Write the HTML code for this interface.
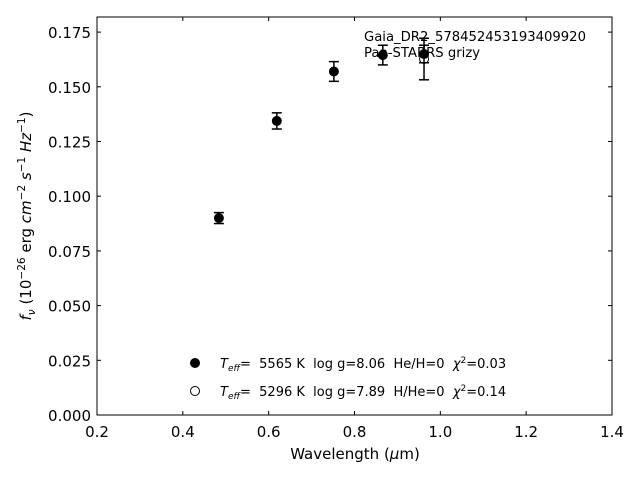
<!DOCTYPE html>
<html><head><meta charset="utf-8"><style>body{margin:0;background:#fff}svg{font-family:"DejaVu Sans","Liberation Sans",sans-serif}text{white-space:pre}</style></head>
<body>
<svg id="c" width="640" height="480"></svg>
<script>
const wl=[0.484,0.619,0.752,0.866,0.962];
const flux=[0.0900,0.1344,0.1570,0.1645,0.1650];
const err=[0.0025,0.0037,0.0045,0.0045,0.0040];
const wlOpen=[0.962];
const fluxOpen=[0.1627];
const errOpen=[0.0095];
const xTicks=[0.2,0.4,0.6,0.8,1.0,1.2,1.4];
const yTicks=[0,0.025,0.05,0.075,0.1,0.125,0.15,0.175];
const L=97,R=612,T=17,B=415;
const X=v=>L+(v-0.2)/1.2*(R-L);
const Y=v=>B-v*2188;
const s=document.getElementById('c');const NS='http://www.w3.org/2000/svg';
function el(t,a,txt){const e=document.createElementNS(NS,t);for(const k in a)e.setAttribute(k,a[k]);if(txt!=null)e.innerHTML=txt;s.appendChild(e);return e;}
let f=el('rect',{x:L,y:T,width:R-L,height:B-T,fill:'none',stroke:'#000','stroke-width':1});


xTicks.forEach(v=>{const x=X(v);
let t=el('line',{x1:x,x2:x,y1:B,y2:B-4,stroke:'#000'});
el('line',{x1:x,x2:x,y1:T,y2:T+4,stroke:'#000'});
let l=el('text',{x:x,y:B+22,'text-anchor':'middle','font-size':15},v.toFixed(1));});
yTicks.forEach(v=>{const y=Y(v);
let t=el('line',{x1:L,x2:L+4,y1:y,y2:y,stroke:'#000'});
el('line',{x1:R,x2:R-4,y1:y,y2:y,stroke:'#000'});
let l=el('text',{x:L-6,y:y+6,'text-anchor':'end','font-size':15},v.toFixed(3));});
function pt(x,y,e,fill,name){const px=X(x),py=Y(y),t=Y(y+e),b=Y(y-e);
const g=el('g',{});
[['line',{x1:px,x2:px,y1:t,y2:b}],['line',{x1:px-5,x2:px+5,y1:t,y2:t}],['line',{x1:px-5,x2:px+5,y1:b,y2:b}]].forEach(([n,a])=>{a.stroke='#000';a['stroke-width']=1.5;const q=document.createElementNS(NS,n);for(const k in a)q.setAttribute(k,a[k]);g.appendChild(q);});
const c=document.createElementNS(NS,'circle');c.setAttribute('cx',px);c.setAttribute('cy',py);c.setAttribute('r',4.5);c.setAttribute('fill',fill);c.setAttribute('stroke','#000');g.appendChild(c);}
wlOpen.forEach((x,i)=>pt(x,fluxOpen[i],errOpen[i],'#fff','model-point-open'));
wl.forEach((x,i)=>pt(x,flux[i],err[i],'#000','observed-point'));
let a=el('text',{x:364,y:41,'font-size':13.2},'Gaia_DR2_578452453193409920');
a=el('text',{x:364,y:57,'font-size':13.2},'Pan-STARRS grizy');
a=el('circle',{cx:195,cy:363,r:4.5,fill:'#000',stroke:'#000'});
a=el('circle',{cx:195,cy:391,r:4.5,fill:'#fff',stroke:'#000'});
a=el('text',{x:220,y:368,'font-size':13},'<tspan font-style="italic">T</tspan><tspan font-size="9" dy="3" font-style="italic">eff</tspan><tspan dy="-3">=  5565 K  log g=8.06  He/H=0  </tspan><tspan font-style="italic">χ</tspan><tspan font-size="9" dy="-5">2</tspan><tspan dy="5">=0.03</tspan>');
a=el('text',{x:220,y:396,'font-size':13},'<tspan font-style="italic">T</tspan><tspan font-size="9" dy="3" font-style="italic">eff</tspan><tspan dy="-3">=  5296 K  log g=7.89  H/He=0  </tspan><tspan font-style="italic">χ</tspan><tspan font-size="9" dy="-5">2</tspan><tspan dy="5">=0.14</tspan>');
a=el('text',{x:355,y:459,'text-anchor':'middle','font-size':15},'Wavelength (<tspan font-style="italic">μ</tspan>m)');
a=el('text',{x:0,y:0,'text-anchor':'middle','font-size':15,transform:'translate(31,216) rotate(-90)'},'<tspan font-style="italic">f</tspan><tspan font-size="10.5" dy="4" font-style="italic">ν</tspan><tspan dy="-4"> (10</tspan><tspan font-size="10.5" dy="-6">−26</tspan><tspan dy="6"> erg </tspan><tspan font-style="italic">cm</tspan><tspan font-size="10.5" dy="-6">−2</tspan><tspan dy="6" font-style="italic"> s</tspan><tspan font-size="10.5" dy="-6">−1</tspan><tspan dy="6" font-style="italic"> Hz</tspan><tspan font-size="10.5" dy="-6">−1</tspan><tspan dy="6">)</tspan>');
</script>
</body></html>
